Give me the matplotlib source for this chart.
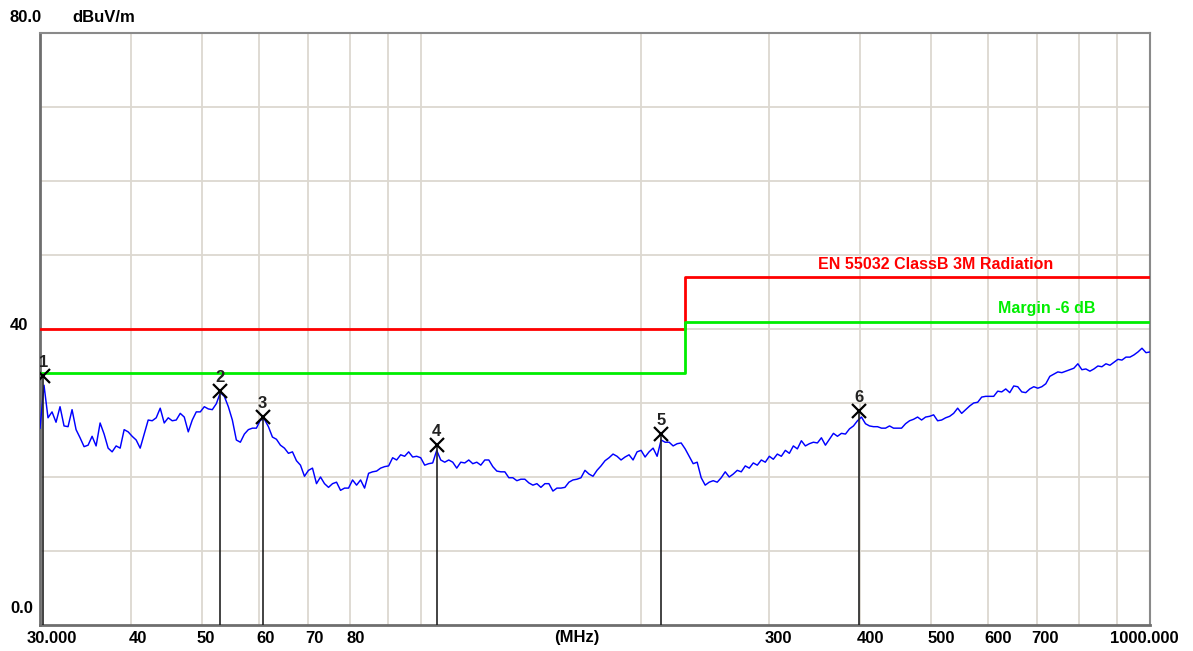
import numpy as np
import matplotlib
matplotlib.use('Agg')
import matplotlib.pyplot as plt
from matplotlib.transforms import ScaledTranslation

plt.rcParams['font.family'] = ['Liberation Sans', 'DejaVu Sans']

# 扫描电平 dBuV/m（30 MHz ~ 1000 MHz，对数等间隔读点）
level = [26.6, 32.4, 28.0, 28.8, 27.4, 29.5, 26.9, 26.8, 29.1, 26.4,
         25.3, 24.1, 24.3, 25.5, 24.2, 27.3, 25.8, 23.9, 23.4, 24.2,
         23.9, 26.4, 26.1, 25.5, 25.0, 23.9, 25.8, 27.7, 27.6, 28.0,
         29.3, 27.3, 28.0, 27.6, 27.7, 28.6, 28.1, 26.1, 27.7, 28.8,
         28.8, 29.5, 29.2, 29.1, 29.9, 31.4, 30.9, 29.5, 27.7, 25.0,
         24.7, 25.8, 26.4, 26.6, 26.6, 27.7, 27.8, 26.8, 25.4, 25.1,
         24.3, 23.9, 23.2, 23.4, 22.2, 21.6, 20.1, 20.9, 21.2, 19.1,
         20.0, 19.1, 18.6, 19.1, 19.3, 18.2, 18.5, 18.5, 19.6, 18.9,
         19.6, 18.5, 20.5, 20.7, 20.8, 21.2, 21.4, 21.5, 22.6, 22.3,
         23.0, 22.8, 23.4, 22.7, 22.8, 22.6, 21.6, 21.8, 21.9, 23.6,
         22.3, 22.0, 22.3, 22.0, 21.2, 22.0, 21.9, 22.3, 21.8, 22.0,
         21.6, 22.3, 22.3, 21.4, 20.8, 20.7, 20.7, 19.9, 19.9, 19.5,
         19.7, 19.7, 19.2, 18.9, 19.1, 18.6, 19.1, 19.1, 18.1, 18.5,
         18.5, 18.6, 19.3, 19.6, 19.7, 19.9, 20.9, 20.4, 20.1, 20.9,
         21.5, 22.2, 22.6, 23.1, 22.8, 22.3, 22.7, 23.0, 22.3, 23.4,
         23.6, 22.7, 23.4, 23.9, 22.8, 25.0, 24.7, 24.7, 24.2, 24.5,
         24.6, 23.8, 22.8, 21.8, 22.0, 19.9, 18.9, 19.3, 19.5, 19.3,
         19.9, 20.7, 20.0, 20.4, 20.9, 20.7, 21.5, 21.2, 21.9, 21.6,
         22.3, 22.0, 22.8, 22.4, 23.1, 22.8, 23.6, 23.2, 24.2, 23.8,
         24.9, 24.2, 24.5, 24.7, 24.6, 25.3, 24.3, 25.1, 25.9, 25.5,
         25.9, 25.8, 26.5, 26.9, 27.6, 28.1, 27.2, 26.9, 26.8, 26.8,
         26.6, 26.6, 26.9, 26.6, 26.6, 26.6, 27.2, 27.6, 27.8, 28.1,
         27.7, 28.1, 28.2, 28.4, 27.6, 27.7, 28.0, 28.2, 28.6, 29.3,
         28.6, 29.1, 29.6, 30.0, 30.1, 30.8, 30.9, 30.9, 30.9, 31.6,
         31.5, 31.9, 31.4, 32.3, 32.2, 31.5, 31.4, 31.9, 32.2, 32.0,
         32.2, 32.6, 33.6, 33.9, 34.2, 34.1, 34.3, 34.5, 34.7, 35.3,
         34.5, 34.6, 34.3, 34.6, 35.0, 34.9, 35.3, 35.1, 35.5, 35.9,
         35.8, 36.2, 36.2, 36.5, 36.9, 37.4, 36.8, 36.9]
freq = np.geomspace(30, 1000, len(level))

# 限值线
limit_freq = [30, 230, 1000]
limit_level = [40, 47, 47]
margin_level = [34, 41, 41]

# 标记点
mk_freq = [30.3, 53.0, 60.6, 105.0, 213.3, 398.2]
mk_level = [33.6, 31.6, 28.1, 24.3, 25.8, 28.9]
mk_name = ['1', '2', '3', '4', '5', '6']

# 坐标轴刻度
xtick_freq = [30, 40, 50, 60, 70, 80, 300, 400, 500, 600, 700, 1000]
xtick_text = ['30.000', '40', '50', '60', '70', '80', '300', '400', '500', '600', '700', '1000.000']
xtick_shift = [12, 7, 4, 6, 6, 5, 9, 11, 11, 10, 8, -6]
grid_freq = [40, 50, 60, 70, 80, 90, 100, 200, 300, 400, 500, 600, 700, 800, 900]

fig = plt.figure(figsize=(11.93, 6.51), dpi=100)
ax = fig.add_axes([40 / 1193, 26 / 651, 1110 / 1193, 592 / 651])
ax.set_xscale('log')
ax.set_xlim(30, 1000)
ax.set_ylim(0, 80)

gc = '#dcd8d0'
for g in grid_freq:
    ax.axvline(g, color=gc, lw=1.3, zorder=0)
for g in range(10, 80, 10):
    ax.axhline(g, color=gc, lw=1.3, zorder=0)

ax.plot(limit_freq, limit_level, drawstyle='steps-post', color='#ff0000', lw=2.0, zorder=3)
ax.plot(limit_freq, margin_level, drawstyle='steps-post', color='#00ee00', lw=2.0, zorder=3)
ax.plot(freq, level, color='#0000ff', lw=1.05, zorder=4)

ax.vlines(mk_freq, 0, mk_level, color='#222222', lw=1.2, zorder=5)
ax.plot(mk_freq, mk_level, 'x', color='black', ms=10, mew=1.6, zorder=6)
for f, l, n in zip(mk_freq, mk_level, mk_name):
    ax.annotate(n, (f, l), xytext=(0, 4.5), textcoords='offset points', ha='center', va='bottom',
                fontsize=12, fontweight='bold', color='#222222', zorder=6)

ax.text(0.807, 47.7, 'EN 55032 ClassB 3M Radiation', transform=ax.get_yaxis_transform(),
        ha='center', va='bottom', color='#ff0000', fontsize=11.5, fontweight='bold')
ax.text(0.907, 41.8, 'Margin -6 dB', transform=ax.get_yaxis_transform(),
        ha='center', va='bottom', color='#00ee00', fontsize=11.5, fontweight='bold')

ax.set_xticks(xtick_freq)
ax.set_xticklabels(xtick_text)
ax.set_xticks([], minor=True)
ax.tick_params(axis='x', length=0, pad=4, labelsize=12)
for lab, s in zip(ax.get_xticklabels(), xtick_shift):
    lab.set_fontweight('bold')
    lab.set_transform(lab.get_transform() + ScaledTranslation(s / 100, 0, fig.dpi_scale_trans))
ax.set_yticks([])
ax.text(0.484, -0.008, '(MHz)', transform=ax.transAxes, ha='center', va='top',
        fontsize=12, fontweight='bold')

ax.text(-0.027, 40.5, '40', transform=ax.get_yaxis_transform(), ha='left', va='center',
        fontsize=12, fontweight='bold')
ax.text(-0.027, 1.2, '0.0', transform=ax.get_yaxis_transform(), ha='left', va='bottom',
        fontsize=12, fontweight='bold')
fig.text(10 / 1193, 1 - 17 / 651, '80.0', ha='left', va='center', fontsize=12, fontweight='bold')
fig.text(72 / 1193, 1 - 17 / 651, 'dBuV/m', ha='left', va='center', fontsize=12, fontweight='bold')

for side in ['left', 'bottom']:
    ax.spines[side].set_color('#6e6e6e')
    ax.spines[side].set_linewidth(2.0)
for side in ['top', 'right']:
    ax.spines[side].set_color('#8a8a8a')
    ax.spines[side].set_linewidth(1.5)

fig.savefig('out.png', dpi=100, facecolor='white')
